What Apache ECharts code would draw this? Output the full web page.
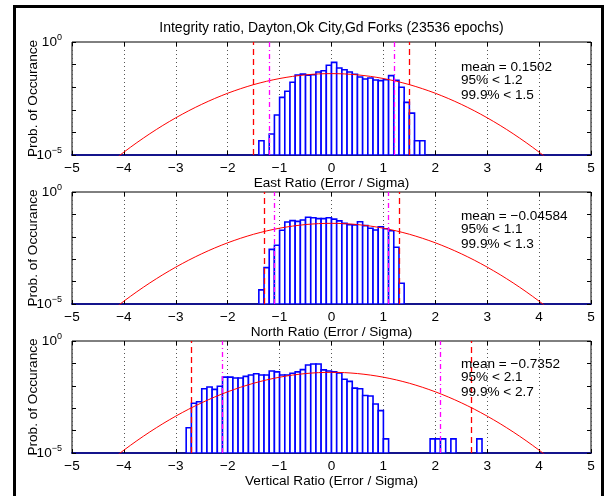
<!DOCTYPE html>
<html><head><meta charset="utf-8">
<script src="https://cdn.jsdelivr.net/npm/echarts@6/dist/echarts.min.js"></script>
<style>html,body{margin:0;padding:0;background:#fff}#c{width:608px;height:496px}</style>
</head><body><div id="c"></div>
<script>
// ---------- data ----------
const titleText = 'Integrity ratio, Dayton,Ok City,Gd Forks (23536 epochs)';
const axisNames = ['East Ratio (Error / Sigma)', 'North Ratio (Error / Sigma)', 'Vertical Ratio (Error / Sigma)'];
const yName = 'Prob. of Occurance';
const xTicks = [-5, -4, -3, -2, -1, 0, 1, 2, 3, 4, 5];

const eastX = [-1.35,-1.15,-1.05,-0.95,-0.85,-0.75,-0.65,-0.55,-0.45,-0.35,-0.25,-0.15,-0.05,0.05,0.15,0.25,0.35,0.45,0.55,0.65,0.75,0.85,0.95,1.05,1.15,1.25,1.35,1.45,1.55,1.65,1.75];
const eastP = [4.25e-5,8.5e-5,5.9e-4,3.55e-3,6.6e-3,0.0166,0.0347,0.038,0.0339,0.0355,0.0468,0.0537,0.0933,0.126,0.0708,0.0589,0.0468,0.0372,0.0282,0.0229,0.0257,0.0209,0.0195,0.0214,0.0324,0.0204,0.0100,2.14e-3,7.1e-4,4.25e-5,4.25e-5];

const northX = [-1.35,-1.25,-1.15,-1.05,-0.95,-0.85,-0.75,-0.65,-0.55,-0.45,-0.35,-0.25,-0.15,-0.05,0.05,0.15,0.25,0.35,0.45,0.55,0.65,0.75,0.85,0.95,1.05,1.15,1.25,1.35];
const northP = [4.25e-5,4.2e-4,2.75e-3,4.2e-3,0.0195,0.0457,0.0525,0.049,0.0562,0.0741,0.0708,0.0646,0.0646,0.0708,0.0617,0.0513,0.0398,0.0347,0.0339,0.0468,0.0316,0.024,0.02,0.0282,0.0229,0.0186,3.4e-3,8.5e-5];

const vertX = [-2.75,-2.65,-2.55,-2.45,-2.35,-2.25,-2.15,-2.05,-1.95,-1.85,-1.75,-1.65,-1.55,-1.45,-1.35,-1.25,-1.15,-1.05,-0.95,-0.85,-0.75,-0.65,-0.55,-0.45,-0.35,-0.25,-0.15,-0.05,0.05,0.15,0.25,0.35,0.45,0.55,0.65,0.75,0.85,0.95,1.05,1.95,2.05,2.15,2.35,2.85];
const vertP = [1.35e-4,1.66e-3,1.95e-3,7.4e-3,8.9e-3,6.9e-3,9.5e-3,0.0245,0.0245,0.0224,0.0224,0.0263,0.0302,0.0347,0.0302,0.0302,0.0457,0.0417,0.0302,0.0302,0.0363,0.0417,0.0525,0.0851,0.0933,0.0933,0.0513,0.0457,0.0417,0.0372,0.0195,0.0158,7.9e-3,7.4e-3,3.7e-3,3.5e-3,1.55e-3,7.8e-4,4.25e-5,4.25e-5,4.25e-5,4.25e-5,4.25e-5,4.25e-5];

// red reference curve (same in every panel)
const curveX = [-4.5,-4.25,-4,-3.75,-3.5,-3.25,-3,-2.75,-2.5,-2.25,-2,-1.75,-1.5,-1.25,-1,-0.75,-0.5,-0.25,0,0.25,0.5,0.75,1,1.25,1.5,1.75,2,2.25,2.5,2.75,3,3.25,3.5,3.75,4,4.25,4.5];
const curveP = [1.6e-6,4.77e-6,1.34e-5,3.53e-5,8.73e-5,2.03e-4,4.43e-4,9.09e-4,1.75e-3,3.17e-3,5.40e-3,8.63e-3,0.0130,0.0183,0.0242,0.0301,0.0352,0.0387,0.0399,0.0387,0.0352,0.0301,0.0242,0.0183,0.0130,8.63e-3,5.40e-3,3.17e-3,1.75e-3,9.09e-4,4.43e-4,2.03e-4,8.73e-5,3.53e-5,1.34e-5,4.77e-6,1.6e-6];

const means = ['0.1502', '\u22120.04584', '\u22120.7352'];
const p95 = [1.2, 1.1, 2.1];
const p999 = [1.5, 1.3, 2.7];

// ---------- chart ----------
const FONT = '"Liberation Sans", Arial, Helvetica, sans-serif';
const FS = 13.6;
const panels = [
  {X: eastX, P: eastP, top: 42, h: 113},
  {X: northX, P: northP, top: 192, h: 112},
  {X: vertX, P: vertP, top: 341, h: 112}
];
const fmtNum = v => v < 0 ? '\u2212' + (-v) : String(v);

const grid = [], xAxis = [], yAxis = [], series = [], graphic = [];
panels.forEach((pn, i) => {
  grid.push({left: 72, right: 17, top: pn.top, height: pn.h, show: true, borderColor: '#000', borderWidth: 1, backgroundColor: 'transparent'});
  xAxis.push({
    type: 'value', gridIndex: i, min: xTicks[0], max: xTicks[xTicks.length - 1], interval: 1,
    name: axisNames[i], nameLocation: 'middle', nameGap: 21, nameMoveOverlap: false,
    nameTextStyle: {fontFamily: FONT, fontSize: FS, color: '#000'},
    axisLine: {show: true, onZero: false, lineStyle: {color: '#14148c', width: 2}},
    axisTick: {show: true, inside: true, length: 4, lineStyle: {color: '#000'}},
    axisLabel: {fontFamily: FONT, fontSize: FS, color: '#000', margin: 6, formatter: fmtNum, showMinLabel: true, showMaxLabel: true},
    splitLine: {show: true, lineStyle: {color: '#555', type: [1, 3], width: 1}}
  });
  xAxis.push({
    type: 'value', gridIndex: i, position: 'top', min: xTicks[0], max: xTicks[xTicks.length - 1], interval: 1,
    axisLine: {show: false, onZero: false}, axisTick: {show: true, inside: true, length: 4, lineStyle: {color: '#000'}},
    axisLabel: {show: false}, splitLine: {show: false}
  });
  yAxis.push({
    type: 'value', gridIndex: i, position: 'left', min: -5, max: 0, interval: 1,
    name: yName, nameLocation: 'middle', nameGap: 32, nameRotate: 90, nameMoveOverlap: false,
    nameTextStyle: {fontFamily: FONT, fontSize: FS, color: '#000'},
    axisLine: {show: false, onZero: false},
    axisTick: {show: true, inside: true, length: 4, lineStyle: {color: '#000'}},
    axisLabel: {
      margin: 10, showMinLabel: true, showMaxLabel: true,
      formatter: v => v === 0 ? '{b|10}{s|0}' : (v === -5 ? '{b|10}{s|\u22125}' : ''),
      rich: {
        b: {fontFamily: FONT, fontSize: FS, color: '#000'},
        s: {fontFamily: FONT, fontSize: 9, color: '#000', padding: [0, 0, 9, 0]}
      }
    },
    splitLine: {show: false}
  });
  yAxis.push({
    type: 'value', gridIndex: i, position: 'right', min: -5, max: 0, interval: 1,
    axisLine: {show: false, onZero: false}, axisTick: {show: true, inside: true, length: 4, lineStyle: {color: '#000'}},
    axisLabel: {show: false}, splitLine: {show: false}
  });
  series.push({
    type: 'custom', xAxisIndex: 2 * i, yAxisIndex: 2 * i, clip: true, z: 2,
    data: pn.X.map((x, k) => [x, Math.log10(pn.P[k])]),
    renderItem: (params, api) => {
      const x = api.value(0), y = api.value(1);
      const a = api.coord([x - 0.05, y]);
      const b = api.coord([x + 0.05, -5]);
      return {type: 'rect', shape: {x: a[0], y: a[1], width: b[0] - a[0], height: b[1] - a[1]},
        style: {fill: '#ffffff', stroke: '#0000ff', lineWidth: 1.6}};
    }
  });
  const red = {type: [6, 4], color: '#ff0000', width: 1.3};
  const mag = {type: [5, 3, 1, 3], color: '#ff00ff', width: 1.3};
  series.push({
    type: 'line', xAxisIndex: 2 * i, yAxisIndex: 2 * i, z: 3, clip: true, smooth: 0.3,
    symbol: 'none', silent: true,
    data: curveX.map((x, k) => [x, Math.log10(curveP[k])]),
    lineStyle: {color: '#ff0000', width: 1},
    markLine: {
      silent: true, symbol: ['none', 'none'], label: {show: false}, animation: false,
      data: [
        {xAxis: -p999[i], lineStyle: red}, {xAxis: p999[i], lineStyle: red},
        {xAxis: -p95[i], lineStyle: mag}, {xAxis: p95[i], lineStyle: mag}
      ]
    }
  });
  const ty = [67, 216, 364][i];
  const lines = ['mean = ' + means[i], '95% < ' + p95[i], '99.9% < ' + p999[i]];
  const dys = [0, 13, 28];
  lines.forEach((t, k) => graphic.push({
    type: 'text', x: 461, y: ty + dys[k], z: 10,
    style: {text: t, font: FS + 'px ' + FONT, fill: '#000', verticalAlign: 'middle'}
  }));
});

graphic.push({type: 'text', x: 331.5, y: 28, z: 10,
  style: {text: titleText, font: '14px ' + FONT, fill: '#000', align: 'center', verticalAlign: 'middle'}});
graphic.push({type: 'rect', z: 20, shape: {x: 14.5, y: 6.5, width: 588, height: 520},
  style: {fill: 'none', stroke: '#000', lineWidth: 3}});

const chart = echarts.init(document.getElementById('c'), null, {renderer: 'canvas'});
chart.setOption({animation: false, backgroundColor: '#fff', grid, xAxis, yAxis, series, graphic});
</script>
</body></html>
